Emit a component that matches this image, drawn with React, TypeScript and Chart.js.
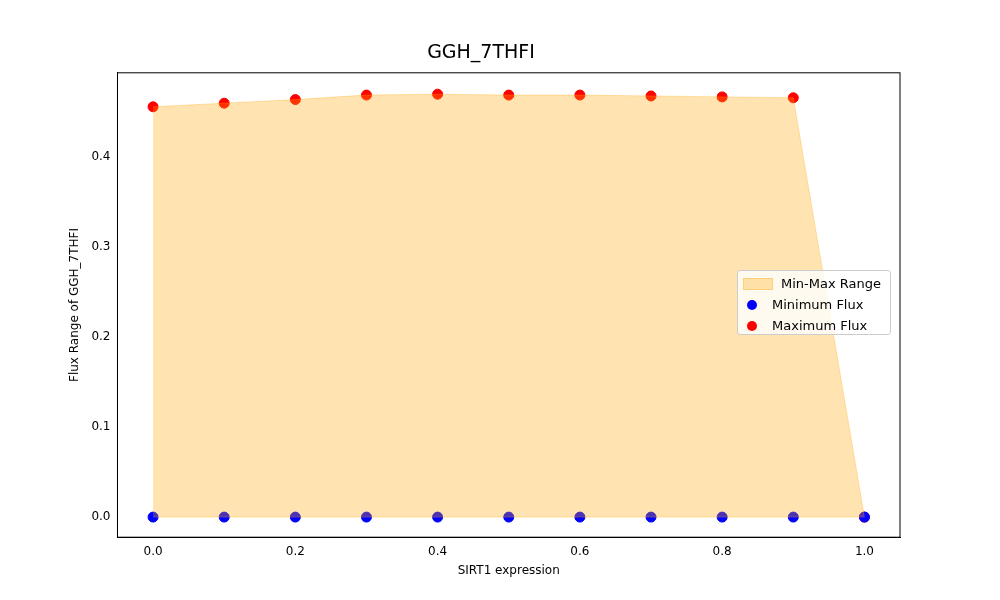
import { useEffect, useRef } from 'react'
import { Chart, registerables } from 'chart.js'

Chart.register(...registerables)

const EXPRESSION = [0, 0.1, 0.2, 0.3, 0.4, 0.5, 0.6, 0.7, 0.8, 0.9, 1.0]
const MIN_FLUX = [0, 0, 0, 0, 0, 0, 0, 0, 0, 0, 0]
const MAX_FLUX = [0.455, 0.459, 0.463, 0.468, 0.469, 0.468, 0.468, 0.467, 0.466, 0.465, 0]
const X_TICKS = [0, 0.2, 0.4, 0.6, 0.8, 1.0]
const Y_TICKS = [0, 0.1, 0.2, 0.3, 0.4]

const pts = (ys: number[]) => EXPRESSION.map((x, i) => ({ x, y: ys[i] }))
const font = { family: 'DejaVu Sans', size: 12 }

export default function App() {
  const ref = useRef<HTMLCanvasElement>(null)

  useEffect(() => {
    if (!ref.current) return
    const chart = new Chart(ref.current, {
      type: 'line',
      data: {
        datasets: [
          {
            label: 'max edge',
            data: pts(MAX_FLUX),
            borderColor: 'rgba(255,165,0,0.3)',
            backgroundColor: 'rgba(255,165,0,0.3)',
            borderWidth: 1,
            pointRadius: 0,
            fill: '+1',
            tension: 0,
          },
          {
            label: 'min edge',
            data: pts(MIN_FLUX),
            borderColor: 'rgba(255,165,0,0.3)',
            borderWidth: 1,
            pointRadius: 0,
            fill: false,
          },
          {
            label: 'Minimum Flux',
            data: pts(MIN_FLUX),
            showLine: false,
            pointRadius: 5,
            pointBackgroundColor: '#0000ff',
            pointBorderColor: '#0000ff',
          },
          {
            label: 'Maximum Flux',
            data: pts(MAX_FLUX),
            showLine: false,
            pointRadius: 5,
            pointBackgroundColor: '#ff0000',
            pointBorderColor: '#ff0000',
          },
        ],
      },
      options: {
        animation: false,
        responsive: false,
        layout: { padding: { left: 62, right: 100, top: 10, bottom: 20 } },
        plugins: {
          legend: { display: false },
          tooltip: { enabled: false },
          title: {
            display: true,
            text: 'GGH_7THFI',
            color: '#000',
            font: { family: 'DejaVu Sans', size: 19, weight: 'normal' },
            padding: { top: 32, bottom: 8 },
          },
        },
        scales: {
          x: {
            type: 'linear',
            min: -0.05,
            max: 1.05,
            afterBuildTicks: (s) => { s.ticks = X_TICKS.map((v) => ({ value: v })) },
            ticks: { color: '#000', font, callback: (v) => Number(v).toFixed(1) },
            grid: { display: false, drawTicks: true, tickLength: 4 },
            border: { color: '#000' },
            title: { display: true, text: 'SIRT1 expression', color: '#000', font, padding: 2 },
          },
          y: {
            min: -0.0223,
            max: 0.4927,
            afterBuildTicks: (s) => { s.ticks = Y_TICKS.map((v) => ({ value: v })) },
            ticks: { color: '#000', font, callback: (v) => Number(v).toFixed(1) },
            grid: { display: false, tickLength: 4 },
            border: { color: '#000' },
            title: { display: true, text: 'Flux Range of GGH_7THFI', color: '#000', font, padding: 6 },
          },
        },
      },
      plugins: [
        {
          id: 'frame',
          afterDraw: (c) => {
            const { left, right, top, bottom } = c.chartArea
            const g = c.ctx
            g.save()
            g.strokeStyle = '#000'
            g.lineWidth = 1
            g.strokeRect(left, top, right - left, bottom - top)
            g.restore()
          },
        },
      ],
    })
    return () => chart.destroy()
  }, [])

  const row = { display: 'flex', alignItems: 'center', height: 21 }
  const dot = (c: string) => ({ width: 10, height: 10, borderRadius: 5, background: c, margin: '0 15px 0 9px' })

  return (
    <div style={{ position: 'fixed', left: 0, top: 0, width: 1000, height: 600, background: '#fff' }}>
      <canvas ref={ref} width={1000} height={600} />
      <div
        style={{
          position: 'absolute', left: 737, top: 270, width: 154, height: 65,
          border: '1px solid #ccc', borderRadius: 3, background: 'rgba(255,255,255,0.8)',
          fontFamily: 'DejaVu Sans', fontSize: 13, color: '#000', padding: '2px 0', boxSizing: 'border-box',
        }}
      >
        <div style={row}>
          <div style={{ width: 28, height: 10, background: 'rgba(255,165,0,0.3)', border: '1px solid rgba(255,165,0,0.3)', margin: '0 8px 0 5px' }} />
          Min-Max Range
        </div>
        <div style={row}><div style={dot('#0000ff')} />Minimum Flux</div>
        <div style={row}><div style={dot('#ff0000')} />Maximum Flux</div>
      </div>
    </div>
  )
}
